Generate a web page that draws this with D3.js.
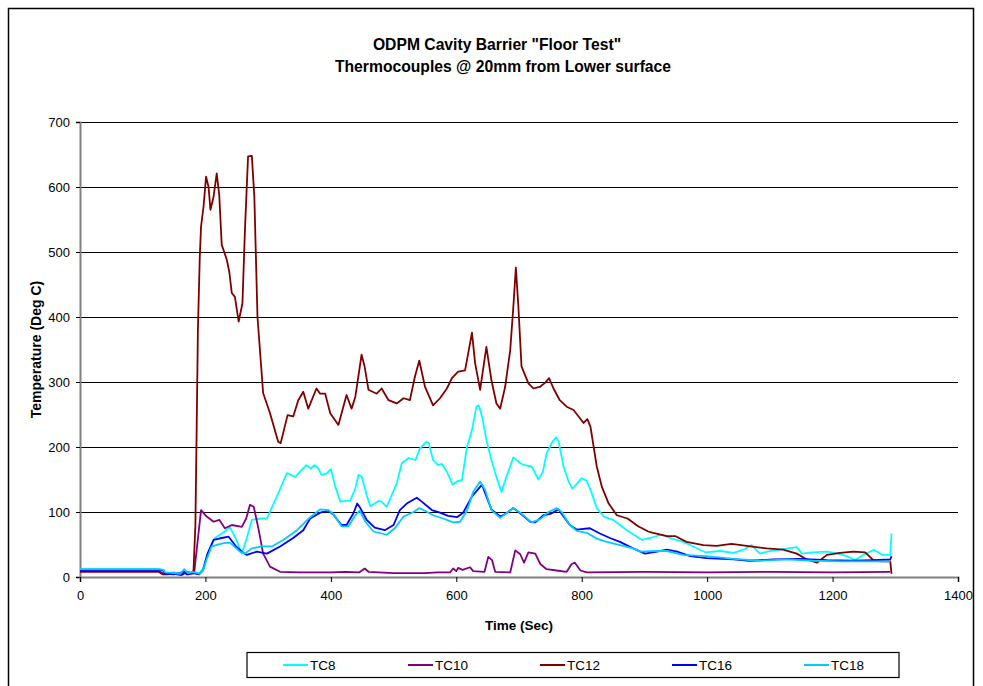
<!DOCTYPE html>
<html>
<head>
<meta charset="utf-8">
<script src="https://cdn.jsdelivr.net/npm/d3@7"></script>
<style>
  html, body { margin: 0; padding: 0; background: #fff; }
  svg { display: block; font-family: "Liberation Sans", Arial, sans-serif; }
</style>
</head>
<body>
<svg id="chart" width="983" height="686"></svg>
<script>
// Thermocouple readings, time in seconds and temperature in deg C
const tc8Time = [0,125,132,136,150,160,166,172,180,190,196,205,215,228,239,248,258,266,274,290,298,314,330,343,361,368,374,380,385,393,400,407,415,431,439,444,449,457,463,476,481,489,497,505,513,524,535,542,552,556,563,571,577,585,594,601,609,617,625,632,636,641,648,656,664,672,680,691,702,709,720,731,738,744,752,759,763,771,779,785,790,800,808,816,824,835,850,872,896,909,927,944,962,978,997,1021,1042,1058,1071,1084,1100,1121,1143,1151,1169,1191,1209,1223,1236,1249,1266,1280,1292,1294];
const tc8Temp = [12,12,11,6,7,5,10,6,8,6,12,40,60,68,77,60,36,60,88,90,90,124,160,154,172,167,172,167,157,159,166,139,116,118,136,157,155,126,109,117,116,108,126,144,175,183,180,198,208,206,180,172,174,162,142,147,149,200,226,262,264,247,211,180,154,131,154,184,175,172,170,150,162,190,206,215,209,170,147,136,141,152,148,129,106,93,88,72,57,60,65,59,54,47,38,40,37,42,49,36,40,43,46,36,38,39,36,32,26,34,42,34,34,67];

const tc10Time = [0,125,134,150,166,172,182,187,193,202,213,222,231,242,258,265,271,277,284,292,303,319,350,400,423,445,454,460,500,550,570,590,595,600,603,610,622,627,645,651,657,662,686,694,702,708,715,726,734,744,760,776,784,789,798,808,900,1000,1100,1200,1292];
const tc10Temp = [9,9,5,4,8,4,6,50,103,93,85,88,75,80,77,90,111,108,77,36,16,8,7,7,8,7,13,8,6,6,7,7,13,9,14,11,15,9,8,31,26,8,7,41,35,22,38,36,20,12,10,8,20,22,10,7,8,7,8,7,8];

const tc12Time = [0,125,132,150,164,170,178,181,184,186,188,191,193,197,201,205,208,213,218,222,226,230,234,238,242,247,253,259,263,268,274,278,283,292,303,316,320,331,340,348,356,364,377,383,391,399,412,425,433,439,449,454,460,473,481,492,505,516,526,534,541,550,563,574,585,593,603,614,619,625,630,638,648,656,664,670,678,686,691,695,699,704,715,723,734,742,748,755,765,776,787,795,803,809,814,824,832,843,856,873,890,906,914,936,949,967,994,1015,1039,1063,1095,1121,1143,1159,1175,1191,1212,1233,1252,1265,1276,1292,1294];
const tc12Temp = [8,8,4,5,4,8,6,10,80,226,380,493,539,570,616,600,565,585,621,588,511,500,488,470,437,431,393,421,534,647,648,585,400,283,252,208,206,249,247,272,285,259,290,282,282,252,234,280,259,277,342,323,288,282,290,272,267,275,272,308,333,293,264,275,290,306,316,318,344,376,329,288,354,303,267,259,293,349,416,476,416,324,298,290,293,299,306,290,272,262,257,247,237,243,231,170,139,113,95,90,78,70,68,63,63,54,49,48,51,48,44,42,36,27,22,34,37,39,38,26,24,24,5];

const tc16Time = [0,125,133,136,150,162,166,170,180,190,196,203,213,226,237,248,258,266,282,298,319,340,356,367,383,396,404,417,425,436,442,447,457,470,486,500,510,521,537,545,561,574,587,601,611,625,641,648,656,670,678,691,702,718,726,739,750,763,771,781,792,813,829,845,861,882,901,920,936,952,973,999,1042,1068,1106,1148,1191,1233,1265,1292,1294];
const tc16Temp = [11,11,10,4,5,3,9,4,6,4,10,35,57,60,62,48,39,34,39,36,47,60,72,90,99,102,96,80,80,98,113,106,88,76,72,80,103,113,122,116,103,99,94,92,99,124,142,124,104,93,97,106,98,85,84,95,97,104,93,80,73,75,67,60,54,44,36,39,42,39,32,29,27,25,27,28,26,25,26,27,32];

const tc18Time = [0,125,133,136,150,160,166,172,180,190,196,203,210,229,239,255,263,274,290,306,324,346,367,383,396,404,417,428,439,446,455,468,489,502,516,532,541,550,563,579,595,606,617,627,638,646,656,670,678,691,702,720,734,747,760,768,781,792,808,824,840,861,882,893,920,936,962,999,1042,1084,1127,1169,1212,1255,1292];
const tc18Temp = [12,12,11,7,6,5,12,6,8,5,10,30,47,52,53,39,36,44,47,47,57,72,92,104,103,97,78,78,95,102,85,70,65,75,93,100,106,102,95,90,84,85,102,131,147,134,103,91,97,106,99,84,89,100,106,100,80,71,68,59,54,49,44,39,40,40,34,32,28,25,27,25,24,24,24];

const seriesNames = ["TC8", "TC10", "TC12", "TC16", "TC18"];
const seriesColors = ["#00FFFF", "#800080", "#800000", "#0000FF", "#00CCFF"];
const seriesTimes = [tc8Time, tc10Time, tc12Time, tc16Time, tc18Time];
const seriesTemps = [tc8Temp, tc10Temp, tc12Temp, tc16Temp, tc18Temp];

const xTicks = [0, 200, 400, 600, 800, 1000, 1200, 1400];
const yTicks = [0, 100, 200, 300, 400, 500, 600, 700];

const titleLines = ["ODPM Cavity Barrier \"Floor Test\"", "Thermocouples @ 20mm from Lower surface"];
const xTitle = "Time (Sec)";
const yTitle = "Temperature (Deg C)";

const svg = d3.select("#chart");
const plot = { left: 80, right: 958, top: 122, bottom: 577 };

const x = d3.scaleLinear().domain([0, 1400]).range([plot.left, plot.right]);
const y = d3.scaleLinear().domain([0, 700]).range([plot.bottom, plot.top]);

// chart border
svg.append("rect")
  .attr("x", 8.5).attr("y", 8.5)
  .attr("width", 965).attr("height", 700)
  .attr("fill", "none").attr("stroke", "#000").attr("stroke-width", 1.5);

// title, two centred lines
const titleX = [497, 503];
svg.append("g").selectAll("text").data(titleLines).join("text")
  .attr("x", (d, i) => titleX[i])
  .attr("y", (d, i) => 49.5 + i * 22)
  .attr("text-anchor", "middle")
  .attr("font-weight", "bold")
  .attr("font-size", 15.7)
  .text(d => d);

// horizontal gridlines
svg.append("g").selectAll("line").data(yTicks.filter(v => v > 0)).join("line")
  .attr("x1", plot.left).attr("x2", plot.right)
  .attr("y1", d => Math.round(y(d)) + 0.5).attr("y2", d => Math.round(y(d)) + 0.5)
  .attr("stroke", "#000").attr("stroke-width", 1);

// axes
const yAxis = d3.axisLeft(y).tickValues(yTicks).tickSize(4).tickPadding(6).tickFormat(d3.format("d"));
const xAxis = d3.axisBottom(x).tickValues(xTicks).tickSize(5).tickPadding(9).tickFormat(d3.format("d"));

const gy = svg.append("g").attr("transform", `translate(${plot.left},0)`).call(yAxis);
const gx = svg.append("g").attr("transform", `translate(0,${plot.bottom})`).call(xAxis);
[gx, gy].forEach(g => {
  g.select(".domain").attr("stroke", "#808080").attr("stroke-width", 2);
  g.selectAll(".tick line").attr("stroke", "#000");
  g.selectAll(".tick text").attr("font-size", 13).attr("fill", "#000")
    .attr("font-family", "\"Liberation Sans\", Arial, sans-serif");
});

// axis titles
svg.append("text")
  .attr("x", (plot.left + plot.right) / 2).attr("y", 630)
  .attr("text-anchor", "middle").attr("font-weight", "bold").attr("font-size", 13.5)
  .text(xTitle);
svg.append("text")
  .attr("transform", `translate(41,${(plot.top + plot.bottom) / 2}) rotate(-90)`)
  .attr("text-anchor", "middle").attr("font-weight", "bold").attr("font-size", 14)
  .text(yTitle);

// series lines
const line = d3.line().x(d => x(d[0])).y(d => y(d[1]));
svg.append("g").selectAll("path").data(seriesNames.map((n, i) => ({
    name: n, color: seriesColors[i],
    pts: seriesTimes[i].map((t, j) => [t, seriesTemps[i][j]])
  }))).join("path")
  .attr("d", d => line(d.pts))
  .attr("fill", "none")
  .attr("stroke", d => d.color)
  .attr("stroke-width", 1.8)
  .attr("stroke-linejoin", "round");

// legend
const legend = svg.append("g");
legend.append("rect")
  .attr("x", 247).attr("y", 652.5).attr("width", 652).attr("height", 25)
  .attr("fill", "#fff").attr("stroke", "#000").attr("stroke-width", 1.2);
const legendX = [283, 408, 540, 672, 804];
const items = legend.selectAll("g.item").data(seriesNames).join("g")
  .attr("transform", (d, i) => `translate(${legendX[i]},665)`);
items.append("line").attr("x1", 0).attr("x2", 25).attr("y1", 0).attr("y2", 0)
  .attr("stroke", (d, i) => seriesColors[i]).attr("stroke-width", 2);
items.append("text").attr("x", 27).attr("y", 5).attr("font-size", 13.5).text(d => d);
</script>
</body>
</html>
